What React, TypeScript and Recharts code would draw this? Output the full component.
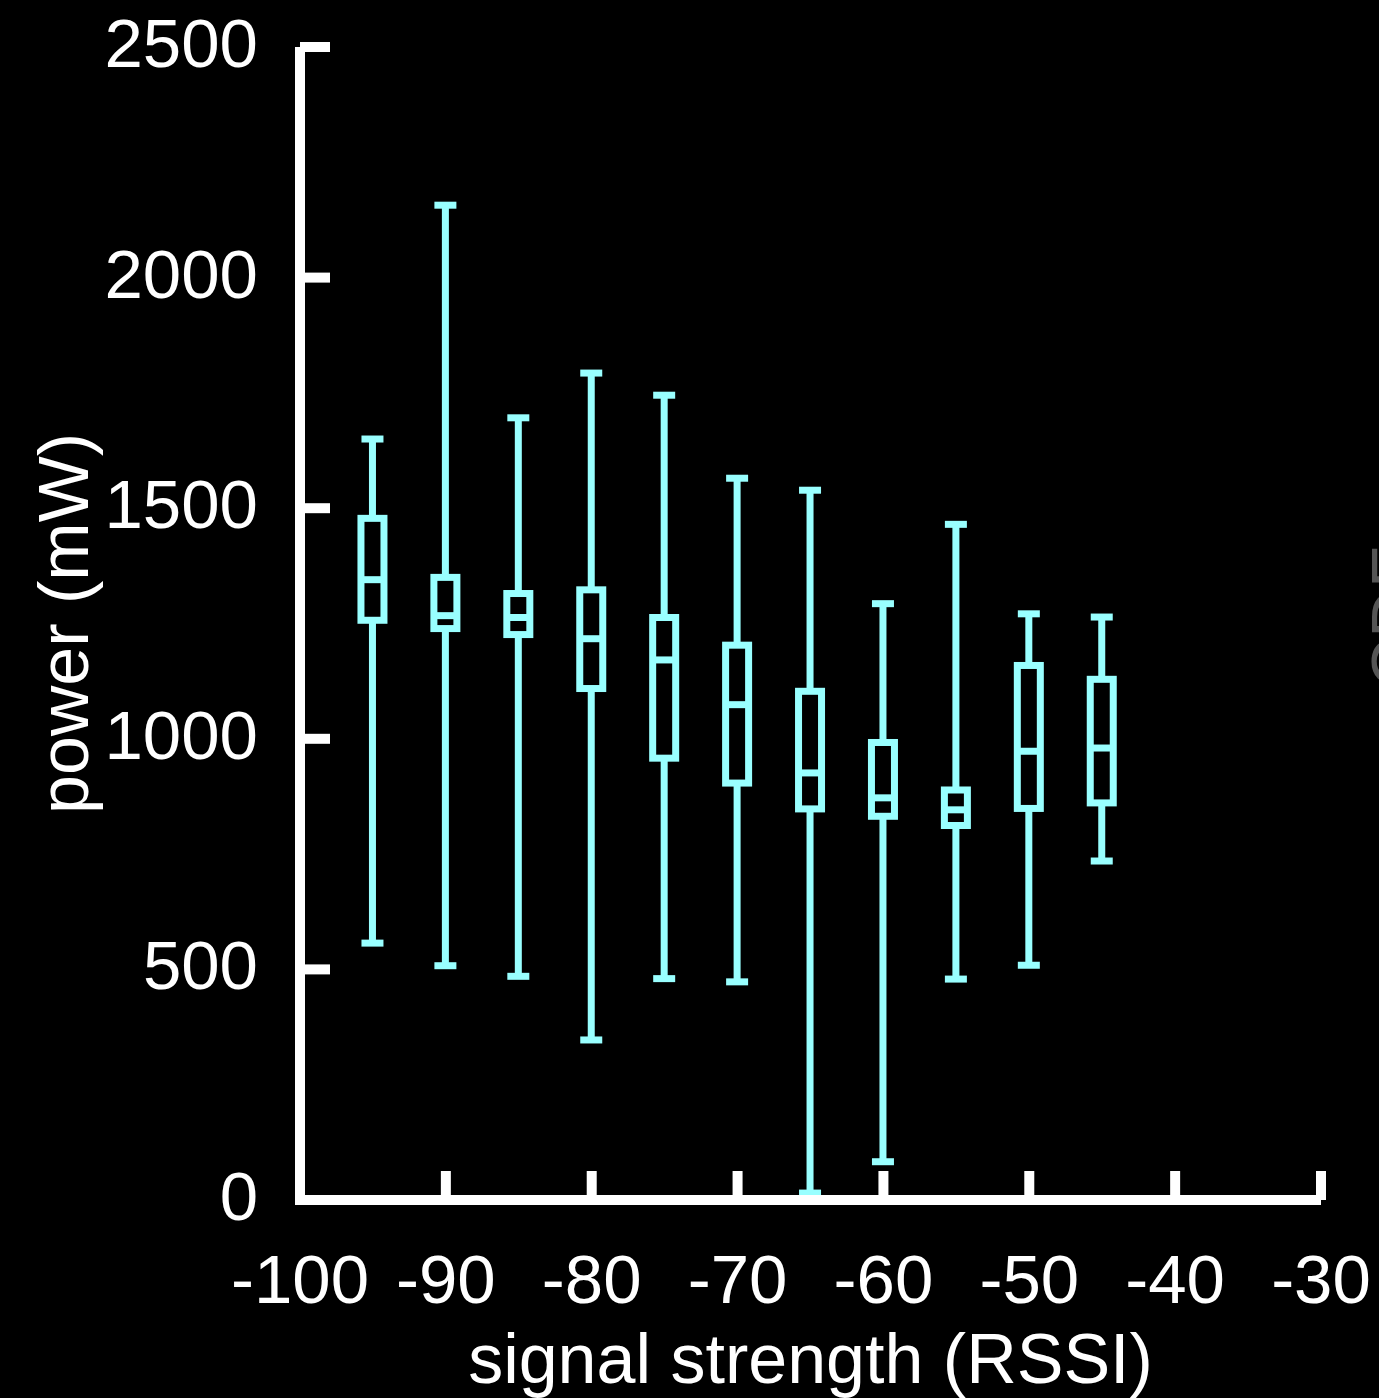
import React from "react";
import { ComposedChart, Bar, XAxis, YAxis } from "recharts";

// box plot values (power in mW)
const rssi = [-95, -90, -85, -80, -75, -70, -65, -60, -55, -50, -45];
const whiskerHigh = [1650, 2157, 1696, 1793, 1745, 1565, 1539, 1293, 1465, 1271, 1264];
const upperQuartile = [1478, 1350, 1315, 1323, 1263, 1203, 1103, 992, 889, 1159, 1129];
const median = [1345, 1267, 1263, 1217, 1171, 1074, 926, 872, 846, 973, 980];
const lowerQuartile = [1257, 1239, 1226, 1109, 958, 904, 848, 832, 812, 849, 861];
const whiskerLow = [557, 508, 485, 347, 480, 473, 15, 83, 479, 509, 735];

const xTicks = [-100, -90, -80, -70, -60, -50, -40, -30];
const yTicks = [0, 500, 1000, 1500, 2000, 2500];

const CYAN = "#99ffff";
const FONT = "'Liberation Sans', Arial, Helvetica, sans-serif";
const FONT_SIZE = 69;
const TITLE_SIZE = 70;

const data = rssi.map((x, i) => ({
  rssi: x,
  range: [whiskerLow[i], whiskerHigh[i]],
  low: whiskerLow[i],
  q1: lowerQuartile[i],
  med: median[i],
  q3: upperQuartile[i],
  high: whiskerHigh[i],
}));

const BoxShape = (props: any) => {
  const { x, y, width, height, payload } = props;
  if (!payload) return null;
  const { low, q1, med, q3, high } = payload;
  const cx = x + width / 2;
  const yOf = (v: number) => y + ((high - v) / (high - low)) * height;
  const sw = 7;
  const boxHalf = 11.5;
  const capHalf = 11;
  return (
    <g stroke={CYAN} strokeWidth={sw} fill="none">
      <line x1={cx} x2={cx} y1={yOf(high)} y2={yOf(q3)} />
      <line x1={cx} x2={cx} y1={yOf(q1)} y2={yOf(low)} />
      <line x1={cx - capHalf} x2={cx + capHalf} y1={yOf(high)} y2={yOf(high)} />
      <line x1={cx - capHalf} x2={cx + capHalf} y1={yOf(low)} y2={yOf(low)} />
      <rect x={cx - boxHalf} y={yOf(q3)} width={boxHalf * 2} height={yOf(q1) - yOf(q3)} />
      <line x1={cx - boxHalf} x2={cx + boxHalf} y1={yOf(med)} y2={yOf(med)} />
    </g>
  );
};

const YTick = (props: any) => {
  const { x, y, payload } = props;
  return (
    <g>
      <line x1={x} x2={x + 30} y1={y} y2={y} stroke="#fff" strokeWidth={10} />
      <text x={x - 42} y={y + 20} textAnchor="end" fill="#fff" fontSize={FONT_SIZE} fontFamily={FONT}>
        {payload.value}
      </text>
    </g>
  );
};

const XTick = (props: any) => {
  const { x, y, payload } = props;
  return (
    <g>
      <line x1={x} x2={x} y1={y} y2={y - 29} stroke="#fff" strokeWidth={10} />
      {payload.value === -100 && (
        <line x1={x - 5} x2={x} y1={y} y2={y} stroke="#fff" strokeWidth={10} />
      )}
      <text x={x} y={y + 103} textAnchor="middle" fill="#fff" fontSize={FONT_SIZE} fontFamily={FONT}>
        {payload.value}
      </text>
    </g>
  );
};

export default function App() {
  return (
    <div style={{ position: "fixed", left: 0, top: 0, width: 1379, height: 1398, background: "#000", overflow: "hidden" }}>
      <ComposedChart
        width={1379}
        height={1398}
        data={data}
        margin={{ top: 47, right: 58, bottom: 0, left: 0 }}
      >
        <XAxis
          dataKey="rssi"
          type="number"
          domain={[-100, -30]}
          ticks={xTicks}
          height={198}
          axisLine={{ stroke: "#fff", strokeWidth: 10 }}
          tickLine={false}
          tickSize={0}
          tickMargin={0}
          tick={<XTick />}
          interval={0}
          label={{
            content: ({ viewBox }: any) => (
              <text
                x={viewBox.x + viewBox.width / 2}
                y={viewBox.y + 183}
                textAnchor="middle"
                fill="#fff"
                fontSize={TITLE_SIZE}
                fontFamily={FONT}
              >
                signal strength (RSSI)
              </text>
            ),
          }}
        />
        <YAxis
          type="number"
          domain={[0, 2500]}
          ticks={yTicks}
          width={300}
          axisLine={{ stroke: "#fff", strokeWidth: 10 }}
          tickLine={false}
          tickSize={0}
          tickMargin={0}
          tick={<YTick />}
          interval={0}
          label={{
            content: ({ viewBox }: any) => {
              const lx = viewBox.x + 88;
              const ly = viewBox.y + viewBox.height / 2;
              return (
                <text
                  x={lx}
                  y={ly}
                  transform={`rotate(-90, ${lx}, ${ly})`}
                  textAnchor="middle"
                  fill="#fff"
                  fontSize={TITLE_SIZE}
                  fontFamily={FONT}
                >
                  power (mW)
                </text>
              );
            },
          }}
        />
        <Bar dataKey="range" barSize={30} shape={<BoxShape />} isAnimationActive={false} />
      </ComposedChart>
      <svg width={1379} height={1398} style={{ position: "absolute", left: 0, top: 0, pointerEvents: "none" }}>
        <text
          x={1419}
          y={617}
          transform="rotate(-90, 1419, 617)"
          textAnchor="middle"
          fill="#555"
          fontSize={FONT_SIZE}
          fontFamily={FONT}
        >
          CDF
        </text>
      </svg>
    </div>
  );
}
